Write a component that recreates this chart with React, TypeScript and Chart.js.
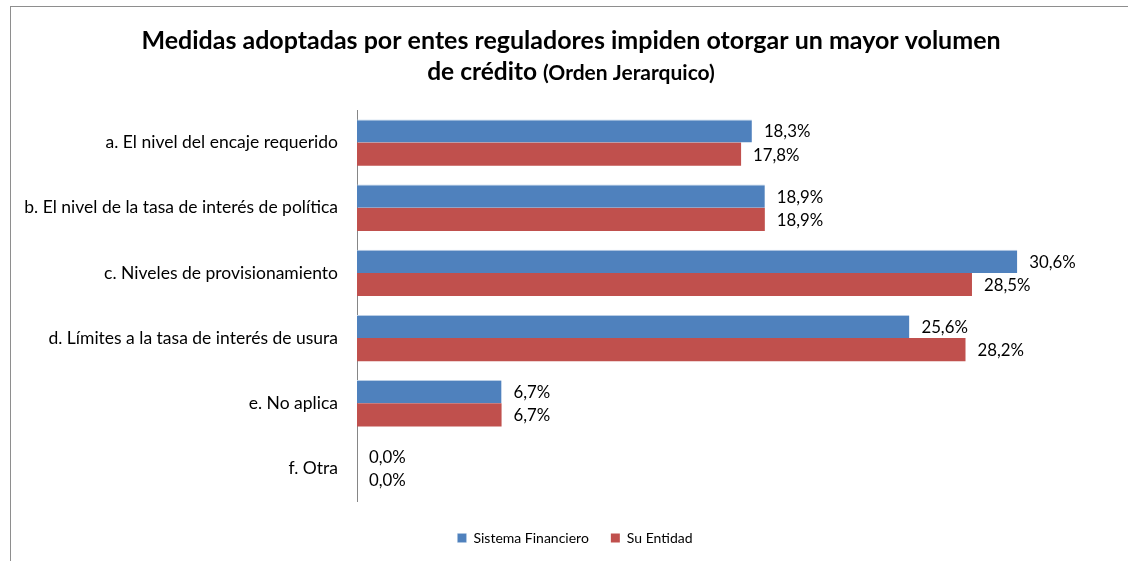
import React, { useEffect, useRef } from "react";
import { Chart, registerables } from "chart.js";

Chart.register(...registerables);

const categories = [
  "a. El nivel del encaje requerido",
  "b. El nivel de la tasa de interés de política",
  "c. Niveles de provisionamiento",
  "d. Límites a la tasa de interés de usura",
  "e. No aplica",
  "f. Otra",
];
const seriesNames = ["Sistema Financiero", "Su Entidad"];
const sistemaFinanciero = [18.3, 18.9, 30.6, 25.6, 6.7, 0.0];
const suEntidad = [17.8, 18.9, 28.5, 28.2, 6.7, 0.0];
const titleLine1 = "Medidas adoptadas por entes reguladores impiden otorgar un mayor volumen";
const titleLine2Main = "de crédito";
const titleLine2Sub = "(Orden Jerarquico)";

const FONT = "Lato, 'Open Sans', sans-serif";

const fmt = (v: number) => v.toFixed(1).replace(".", ",") + "%";

const titlePlugin = {
  id: "customTitle",
  afterDraw(chart: any) {
    const ctx = chart.ctx;
    ctx.save();
    ctx.fillStyle = "#000";
    ctx.textBaseline = "alphabetic";
    ctx.textAlign = "left";
    ctx.font = `bold 25px ${FONT}`;
    const w1 = ctx.measureText(titleLine1).width;
    ctx.fillText(titleLine1, 571 - w1 / 2, 49);
    ctx.font = `bold 24.5px ${FONT}`;
    const wa = ctx.measureText(titleLine2Main + " ").width;
    ctx.font = `bold 21px ${FONT}`;
    const wb = ctx.measureText(titleLine2Sub).width;
    const start = 571 - (wa + wb) / 2;
    ctx.font = `bold 24.5px ${FONT}`;
    ctx.fillText(titleLine2Main + " ", start, 80);
    ctx.font = `bold 21px ${FONT}`;
    ctx.fillText(titleLine2Sub, start + wa, 80);
    ctx.restore();
  },
};

const dataLabelPlugin = {
  id: "dataLabels",
  afterDatasetsDraw(chart: any) {
    const ctx = chart.ctx;
    ctx.save();
    ctx.fillStyle = "#000";
    ctx.font = `16.8px ${FONT}`;
    ctx.textBaseline = "middle";
    ctx.textAlign = "left";
    chart.data.datasets.forEach((ds: any, i: number) => {
      const meta = chart.getDatasetMeta(i);
      meta.data.forEach((bar: any, j: number) => {
        ctx.fillText(fmt(ds.data[j]), bar.x + 12, bar.y + 1);
      });
    });
    ctx.restore();
  },
};

export default function App() {
  const ref = useRef<HTMLCanvasElement>(null);
  useEffect(() => {
    if (!ref.current) return;
    const chart = new Chart(ref.current, {
      type: "bar",
      data: {
        labels: categories,
        datasets: [
          {
            label: seriesNames[0],
            data: sistemaFinanciero,
            backgroundColor: "#4F81BD",
            borderColor: "#B9CDE5",
            borderWidth: { top: 1, right: 0, bottom: 0, left: 0 },
          },
          {
            label: seriesNames[1],
            data: suEntidad,
            backgroundColor: "#C0504D",
            borderWidth: 0,
          },
        ],
      },
      options: {
        indexAxis: "y",
        responsive: false,
        animation: false,
        layout: { padding: { top: 110, right: 0, bottom: 6, left: 0 } },
        datasets: { bar: { categoryPercentage: 0.71, barPercentage: 1.0 } },
        scales: {
          x: {
            min: 0,
            max: 36.75,
            display: true,
            grid: { display: false },
            border: { display: false },
            ticks: { display: false },
            afterFit: (s: any) => {
              s.height = 8;
            },
          },
          y: {
            grid: { display: false, drawTicks: false },
            border: { display: true, color: "#868686", width: 1 },
            ticks: {
              color: "#000",
              font: { family: FONT, size: 17.5 },
              padding: 19,
            },
            afterFit: (s: any) => {
              s.width = 357;
            },
          },
        },
        plugins: {
          legend: {
            position: "bottom",
            labels: {
              boxWidth: 9,
              boxHeight: 9,
              color: "#000",
              font: { family: FONT, size: 14 },
              padding: 22,
            },
          },
          tooltip: { enabled: false },
          title: { display: false },
        },
      },
      plugins: [titlePlugin, dataLabelPlugin],
    });
    return () => chart.destroy();
  }, []);
  return (
    <div
      style={{
        position: "fixed",
        left: 0,
        top: 0,
        width: 1128,
        height: 561,
        background: "#fff",
        overflow: "hidden",
      }}
    >
      <div
        style={{
          position: "absolute",
          left: 10,
          top: 6,
          width: 1200,
          height: 700,
          borderTop: "1px solid #8e8e8e",
          borderLeft: "1px solid #8e8e8e",
        }}
      />
      <canvas
        ref={ref}
        width={1150}
        height={561}
        style={{ position: "absolute", left: 0, top: 0 }}
      />
    </div>
  );
}
